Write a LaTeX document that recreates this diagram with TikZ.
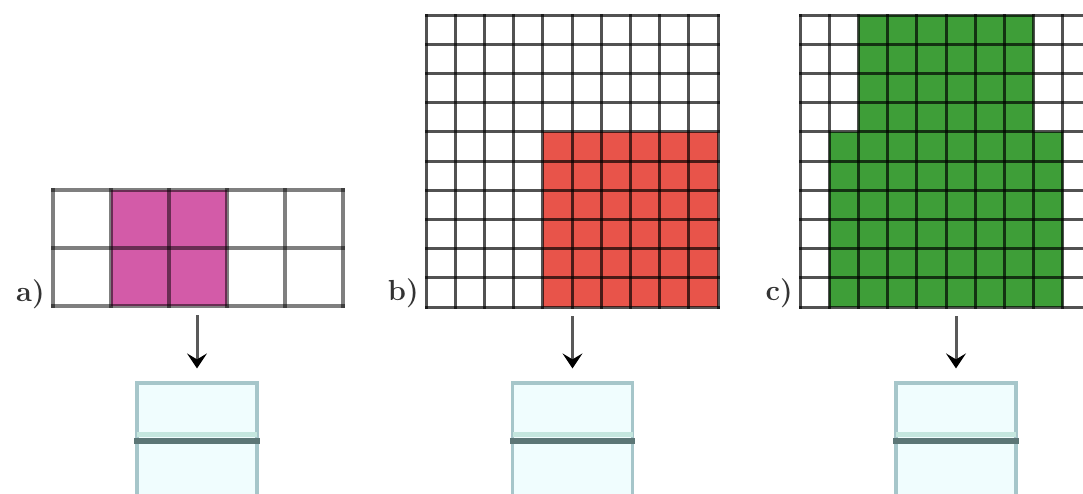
\documentclass[tikz,border=0pt]{standalone}
\usetikzlibrary{arrows.meta}
\definecolor{pinkc}{HTML}{D35BA8}
\definecolor{redc}{HTML}{E8544A}
\definecolor{greenc}{HTML}{3E9E38}
\definecolor{boxfill}{HTML}{F0FDFE}
\definecolor{boxedge}{HTML}{A6C6CA}
\definecolor{midline}{HTML}{5C7676}
\definecolor{midband}{HTML}{C4E6DE}
\begin{document}
\begin{tikzpicture}[x=1pt,y=-1pt,
  gla/.style={draw=black,draw opacity=0.5,line width=3.4pt,line cap=rect},
  glb/.style={draw=black,draw opacity=0.68,line width=3pt,line cap=rect},
  lab/.style={font=\fontsize{29}{29}\selectfont\bfseries,anchor=base east,inner sep=0pt,text=black!80},
  gridnode/.style={inner sep=0pt,outer sep=0pt},
  outbox/.style={draw=boxedge,fill=boxfill,line width=3.2pt,inner sep=0pt,minimum width=120pt,minimum height=116pt},
  midl/.style={draw=midline,line width=5.5pt},
  band/.style={draw=midband,line width=5pt},
  arr/.style={draw=black!65,line width=3pt,-{Stealth[length=15pt,width=20pt,inset=6pt,color=black]},shorten <=9pt,shorten >=13pt}
]
\useasboundingbox (0,0) rectangle (1083,493);
\clip (0,0) rectangle (1083,493);

% ---------- panel a ----------
\node[gridnode,minimum width=290pt,minimum height=116pt] (ga) at (198,248) {};
\fill[pinkc] (111,190) rectangle (227,306);
\foreach \i in {0,...,5} \draw[gla] (53+58*\i,190) -- (53+58*\i,306);
\foreach \j in {0,1,2} \draw[gla] (53,190+58*\j) -- (343,190+58*\j);
\node[lab] (la) at (45,301) {a)};

% ---------- panel b ----------
\node[gridnode,minimum width=292pt,minimum height=292pt] (gb) at (572,161) {};
\fill[redc] (542.8,131.8) rectangle (718,307);
\foreach \i in {0,...,10} \draw[glb] (426+29.2*\i,15) -- (426+29.2*\i,307);
\foreach \j in {0,...,10} \draw[glb] (426,15+29.2*\j) -- (718,15+29.2*\j);
\node[lab] (lb) at (419,300) {b)};

% ---------- panel c ----------
\node[gridnode,minimum width=292pt,minimum height=292pt] (gc) at (946,161) {};
\fill[greenc] (858.4,15) -- (1033.6,15) -- (1033.6,131.8) -- (1062.8,131.8)
  -- (1062.8,307) -- (829.2,307) -- (829.2,131.8) -- (858.4,131.8) -- cycle;
\foreach \i in {0,...,10} \draw[glb] (800+29.2*\i,15) -- (800+29.2*\i,307);
\foreach \j in {0,...,10} \draw[glb] (800,15+29.2*\j) -- (1092,15+29.2*\j);
\node[lab] (lc) at (793,300) {c)};

% ---------- output boxes ----------
\node[outbox] (ba) at (197,441) {};
\node[outbox] (bb) at (572.5,441) {};
\node[outbox] (bc) at (956,441) {};
\foreach \b in {ba,bb,bc}{
  \draw[band] ([xshift=1.6pt,yshift=6.5pt]\b.west) -- ([xshift=-1.6pt,yshift=6.5pt]\b.east);
  \draw[midl] ([xshift=-1pt]\b.west) -- ([xshift=1pt]\b.east);
}

% ---------- arrows ----------
\draw[arr] (ga.south -| ba.north) -- (ba.north);
\draw[arr] (gb.south -| bb.north) -- (bb.north);
\draw[arr] (gc.south -| bc.north) -- (bc.north);
\end{tikzpicture}
\end{document}
